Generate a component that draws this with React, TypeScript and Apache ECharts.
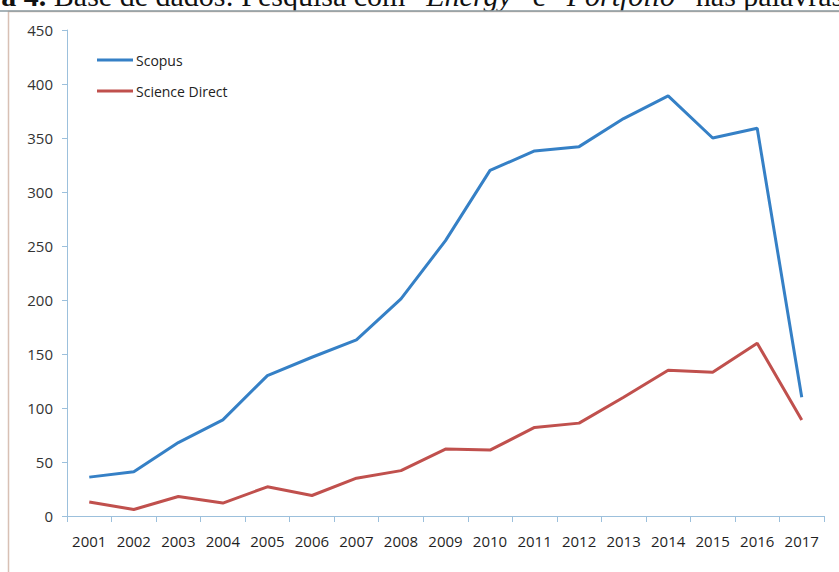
import React, { useEffect, useRef } from "react";
import * as echarts from "echarts";

const years = ["2001","2002","2003","2004","2005","2006","2007","2008","2009","2010","2011","2012","2013","2014","2015","2016","2017"];
const scopus = [36, 41, 68, 89, 130, 147, 163, 201, 255, 320, 338, 342, 368, 389, 350, 359, 110];
const scienceDirect = [13, 6, 18, 12, 27, 19, 35, 42, 62, 61, 82, 86, 110, 135, 133, 160, 89];
const yTicks = { min: 0, max: 450, interval: 50 };
const caption = "{b|ra 4.} Base de dados: Pesquisa com \u201c{i|Energy}\u201d e \u201c{i|Portfolio}\u201d nas palavras";

export default function App() {
  const ref = useRef<HTMLDivElement>(null);
  useEffect(() => {
    const chart = echarts.init(ref.current!, null, { renderer: "svg" });
    const font = "'Open Sans', 'Liberation Sans', sans-serif";
    chart.setOption({
      animation: false,
      backgroundColor: "#ffffff",
      graphic: [
        {
          type: "rect",
          shape: { x: 8.5, y: 11.5, width: 900, height: 600 },
          style: { fill: "none", stroke: "#d8c0b4", lineWidth: 1.5 },
          silent: true,
        },
        {
          type: "line",
          shape: { x1: 0, y1: 11, x2: 839, y2: 11 },
          style: { stroke: "#8a9aa0", lineWidth: 1.5 },
          silent: true,
        },
        {
          type: "text",
          x: -12,
          y: 10,
          z: -1,
          style: {
            text: caption,
            fill: "#111",
            font: "30px 'Liberation Serif', serif",
            textVerticalAlign: "bottom",
            rich: {
              i: { fontStyle: "italic", fontFamily: "Liberation Serif", fontSize: 30 },
              b: { fontWeight: "bold", fontFamily: "Liberation Serif", fontSize: 30 },
            },
          },
          silent: true,
        },
      ],
      grid: { left: 67, right: 15, top: 30, bottom: 56, containLabel: false },
      legend: {
        orient: "vertical",
        left: 92,
        top: 48,
        itemGap: 17,
        icon: "rect",
        itemWidth: 36,
        itemHeight: 3,
        textStyle: { fontFamily: font, fontSize: 14, color: "#222", padding: [0, 0, 0, -2] },
        data: ["Scopus", "Science Direct"],
      },
      xAxis: {
        type: "category",
        data: years,
        boundaryGap: true,
        axisLine: { lineStyle: { color: "#9cc0dc", width: 1 } },
        axisTick: { show: true, lineStyle: { color: "#9cc0dc" }, length: 6 },
        axisLabel: { interval: 0, fontFamily: font, fontSize: 15, color: "#1f1f1f", margin: 17 },
        splitLine: { show: false },
      },
      yAxis: {
        type: "value",
        min: yTicks.min,
        max: yTicks.max,
        interval: yTicks.interval,
        axisLine: { show: true, lineStyle: { color: "#9cc0dc", width: 1 } },
        axisTick: { show: true, lineStyle: { color: "#9cc0dc" }, length: 5 },
        axisLabel: { fontFamily: font, fontSize: 15, color: "#333", margin: 14 },
        splitLine: { show: false },
      },
      series: [
        {
          name: "Scopus",
          type: "line",
          data: scopus,
          symbol: "none",
          lineStyle: { color: "#3580c6", width: 3 },
          itemStyle: { color: "#3580c6" },
        },
        {
          name: "Science Direct",
          type: "line",
          data: scienceDirect,
          symbol: "none",
          lineStyle: { color: "#c0504d", width: 3 },
          itemStyle: { color: "#c0504d" },
        },
      ],
    });
    return () => chart.dispose();
  }, []);
  return <div ref={ref} style={{ width: 839, height: 572, position: "absolute", left: 0, top: 0 }} />;
}
